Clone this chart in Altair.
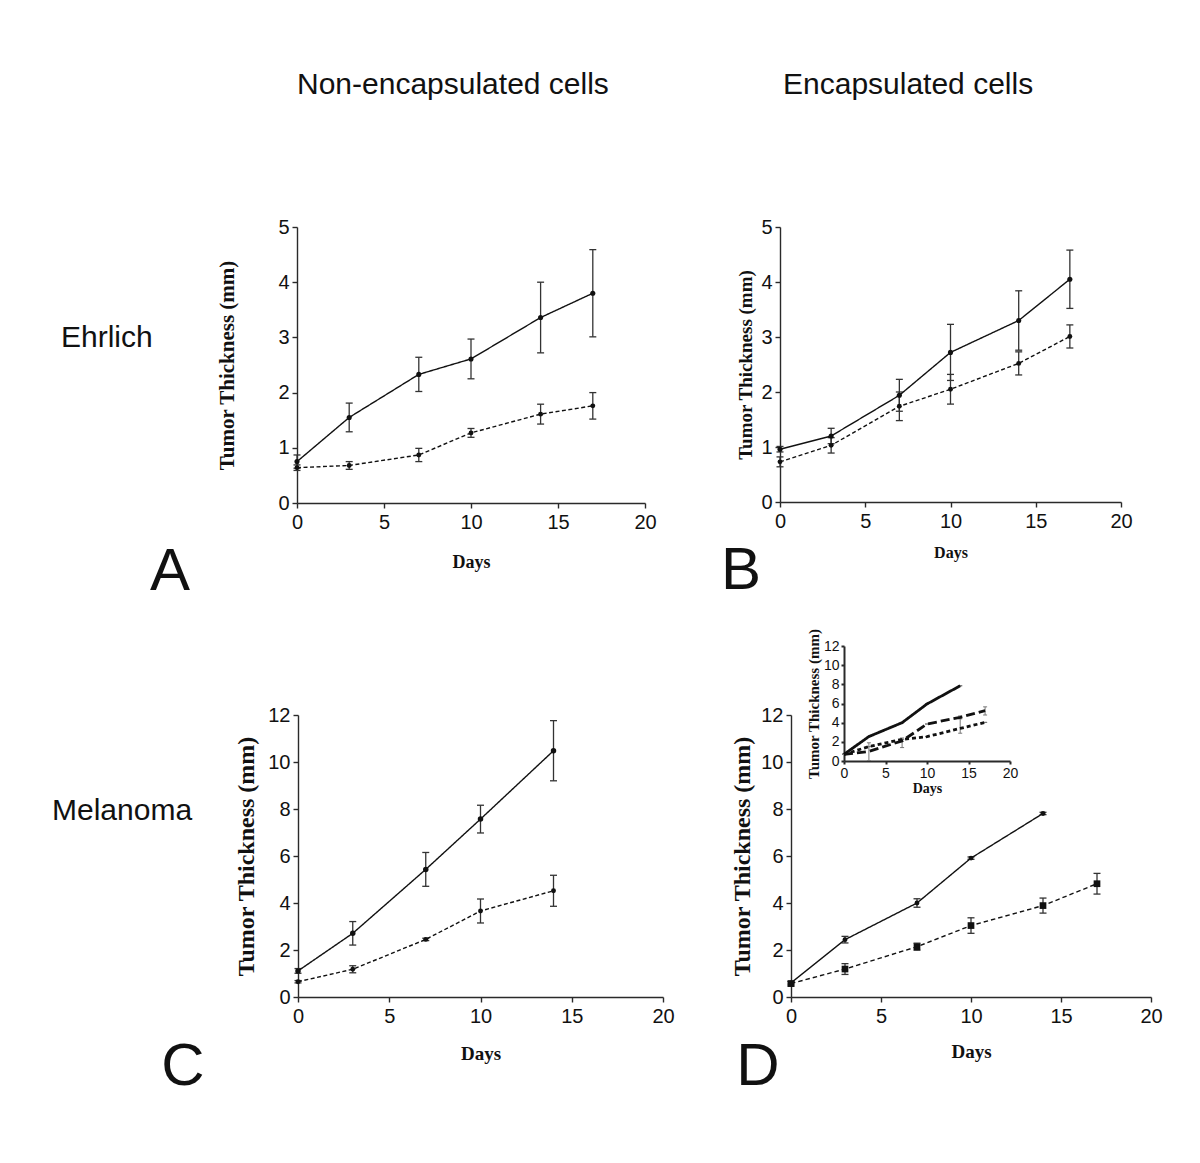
import altair as alt
import pandas as pd

# ---------------- data ----------------
# Panel A: Ehrlich, non-encapsulated cells
a_days = [0, 3, 7, 10, 14, 17]
a_solid = [0.75, 1.55, 2.33, 2.61, 3.36, 3.80]
a_solid_err = [0.12, 0.26, 0.31, 0.36, 0.64, 0.79]
a_dash = [0.64, 0.68, 0.87, 1.27, 1.61, 1.76]
a_dash_err = [0.05, 0.07, 0.12, 0.08, 0.18, 0.24]

# Panel B: Ehrlich, encapsulated cells
b_days = [0, 3, 7, 10, 14, 17]
b_solid = [0.96, 1.20, 1.94, 2.72, 3.30, 4.05]
b_solid_err = [0.05, 0.14, 0.29, 0.51, 0.54, 0.53]
b_dash = [0.73, 1.03, 1.74, 2.05, 2.52, 3.01]
b_dash_err = [0.09, 0.14, 0.26, 0.27, 0.21, 0.21]

# Panel C: Melanoma, non-encapsulated cells
c_days = [0, 3, 7, 10, 14]
c_solid = [1.11, 2.71, 5.43, 7.57, 10.48]
c_solid_err = [0.10, 0.50, 0.72, 0.59, 1.28]
c_dash = [0.65, 1.18, 2.45, 3.66, 4.52]
c_dash_err = [0.05, 0.15, 0.05, 0.51, 0.66]

# Panel D: Melanoma, encapsulated cells
d_days_solid = [0, 3, 7, 10, 14]
d_solid = [0.60, 2.44, 4.00, 5.91, 7.81]
d_solid_err = [0.05, 0.14, 0.18, 0.05, 0.05]
d_days_dash = [0, 3, 7, 10, 14, 17]
d_dash = [0.57, 1.19, 2.14, 3.04, 3.89, 4.82]
d_dash_err = [0.10, 0.23, 0.15, 0.33, 0.32, 0.44]

# Inset of panel D
i_days_solid = [0, 3, 7, 10, 14]
i_solid = [0.70, 2.55, 4.00, 5.95, 7.85]
i_days = [0, 3, 7, 10, 14, 17]
i_long = [0.70, 1.00, 2.10, 3.86, 4.56, 5.25]
i_short = [0.70, 1.50, 2.26, 2.54, 3.40, 4.03]
i_long_lo = [0.70, 0.05, 1.40, 3.86, 4.40, 4.80]
i_long_hi = [0.70, 1.90, 2.40, 3.86, 4.70, 5.65]
i_short_lo = [0.70, 1.50, 2.26, 2.54, 2.90, 4.03]
i_short_hi = [0.70, 1.50, 2.26, 2.54, 4.45, 4.03]

X_TICKS = [0, 5, 10, 15, 20]
SANS = "Liberation Sans, Arial, sans-serif"
SERIF = "Liberation Serif, Times New Roman, serif"
INK = "#111111"


def frame(days, mean, err, name):
    return pd.DataFrame({
        "day": days,
        "mean": mean,
        "lo": [m - e for m, e in zip(mean, err)],
        "hi": [m + e for m, e in zip(mean, err)],
        "series": name,
    })


def panel(df, xrange, yrange, ymax, ystep, xoff, yoff, label_size, ytitle_size,
          ytitle_pad, xtitle_size, xtitle_pad, series, dashes, shapes, sizes,
          lw=1.4, cap=7, tick_size=5, domain_w=1.4, err_color="#333333",
          show_points=True, err_w=1.3, xlpad=4, ylpad=3):
    xs = alt.Scale(domain=[0, 20], range=xrange, nice=False, zero=False)
    ys = alt.Scale(domain=[0, ymax], range=yrange, nice=False, zero=False)
    common = dict(labelFont=SANS, labelFontSize=label_size, labelColor=INK,
                  domainColor="#2a2a2a", tickColor="#2a2a2a",
                  domainWidth=domain_w, tickWidth=domain_w, tickSize=tick_size,
                  titleFont=SERIF, titleFontWeight="bold",
                  titleColor=INK, labelFlush=False, labelOverlap=False, grid=False)
    xax = alt.Axis(orient="bottom", offset=xoff, values=X_TICKS, title="Days",
                   titleFontSize=xtitle_size, titlePadding=xtitle_pad,
                   labelPadding=xlpad, **common)
    yax = alt.Axis(orient="left", offset=yoff,
                   values=list(range(0, ymax + 1, ystep)),
                   title="Tumor Thickness (mm)", titleFontSize=ytitle_size,
                   titlePadding=ytitle_pad, labelPadding=ylpad, **common)
    base = alt.Chart(df)
    xe = alt.X("day:Q", scale=xs, axis=xax)

    def ye(field):
        return alt.Y(field, scale=ys, axis=yax)

    err = base.mark_rule(color=err_color, strokeWidth=err_w).encode(
        x=xe, y=ye("lo:Q"), y2="hi:Q")
    cap_lo = base.mark_tick(orient="horizontal", size=cap, thickness=err_w,
                            color=err_color, opacity=1).encode(x=xe, y=ye("lo:Q"))
    cap_hi = base.mark_tick(orient="horizontal", size=cap, thickness=err_w,
                            color=err_color, opacity=1).encode(x=xe, y=ye("hi:Q"))
    line = base.mark_line(color=INK, strokeWidth=lw).encode(
        x=xe, y=ye("mean:Q"),
        strokeDash=alt.StrokeDash("series:N",
                                  scale=alt.Scale(domain=series, range=dashes),
                                  legend=None),
        detail="series:N")
    layers = [err, cap_lo, cap_hi, line]
    if show_points:
        pts = base.mark_point(filled=True, opacity=1, color=INK).encode(
            x=xe, y=ye("mean:Q"),
            shape=alt.Shape("series:N", scale=alt.Scale(domain=series, range=shapes),
                            legend=None),
            size=alt.Size("series:N", scale=alt.Scale(domain=series, range=sizes),
                          legend=None))
        layers.append(pts)
    return alt.layer(*layers)


SER2 = ["solid", "dash"]
DASH2 = [[1, 0], [4, 2.5]]

dfA = pd.concat([frame(a_days, a_solid, a_solid_err, "solid"),
                 frame(a_days, a_dash, a_dash_err, "dash")])
dfB = pd.concat([frame(b_days, b_solid, b_solid_err, "solid"),
                 frame(b_days, b_dash, b_dash_err, "dash")])
dfC = pd.concat([frame(c_days, c_solid, c_solid_err, "solid"),
                 frame(c_days, c_dash, c_dash_err, "dash")])
dfD = pd.concat([frame(d_days_solid, d_solid, d_solid_err, "solid"),
                 frame(d_days_dash, d_dash, d_dash_err, "dash")])

dfI = pd.concat([
    pd.DataFrame({"day": i_days_solid, "mean": i_solid, "lo": i_solid,
                  "hi": i_solid, "series": "solid"}),
    pd.DataFrame({"day": i_days, "mean": i_long, "lo": i_long_lo,
                  "hi": i_long_hi, "series": "long"}),
    pd.DataFrame({"day": i_days, "mean": i_short, "lo": i_short_lo,
                  "hi": i_short_hi, "series": "short"}),
])

H = 1147
pA = panel(dfA, [289, 637], [495, 219], 5, 1, 495 - H, -289, 20, 21, 40, 18, 21,
           SER2, DASH2, ["circle", "circle"], [26, 24])
pB = panel(dfB, [772, 1113], [494, 219], 5, 1, 494 - H, -772, 20, 19, 5, 16, 13,
           SER2, DASH2, ["circle", "circle"], [26, 24])
pC = panel(dfC, [290, 655], [989, 707], 12, 2, 989 - H, -290, 20, 24, 9, 19, 18,
           SER2, DASH2, ["circle", "circle"], [30, 24])
pD = panel(dfD, [783, 1143], [989, 707], 12, 2, 989 - H, -783, 20, 24, 6, 19, 16,
           SER2, [[1, 0], [4.5, 3]], ["circle", "square"], [24, 45])
pI = panel(dfI, [836, 1002], [753, 638], 12, 2, 753 - H, -836, 14, 15, 2, 14, 1,
           ["solid", "long", "short"], [[1, 0], [9, 4], [4, 3]],
           ["circle", "circle", "circle"], [1, 1, 1], lw=2.8, cap=4, tick_size=3,
           domain_w=2, err_color="#777777", show_points=False, err_w=1,
           xlpad=2, ylpad=2)


def label(text, x, y, size, font=SANS, align="left"):
    return alt.Chart(pd.DataFrame({"t": [text]})).mark_text(
        font=font, fontSize=size, align=align, baseline="alphabetic",
        color=INK).encode(text="t:N", x=alt.value(x), y=alt.value(y))


texts = [
    label("Non-encapsulated cells", 289, 86, 30),
    label("Encapsulated cells", 775, 86, 30),
    label("Ehrlich", 53, 339, 30),
    label("Melanoma", 44, 812, 30),
    label("A", 162, 582, 60, SANS, "center"),
    label("B", 733, 581, 60, SANS, "center"),
    label("C", 175, 1077, 60, SANS, "center"),
    label("D", 750, 1077, 60, SANS, "center"),
]

chart = alt.layer(pA, pB, pC, pD, pI, *texts).resolve_scale(
    x="independent", y="independent", strokeDash="independent",
    shape="independent", size="independent"
).properties(
    width=1184, height=H, padding=0,
    autosize=alt.AutoSizeParams(type="none"),
    background="white",
).configure_view(stroke=None)

chart.save("out.html", embed_options={"renderer": "svg", "actions": False})
